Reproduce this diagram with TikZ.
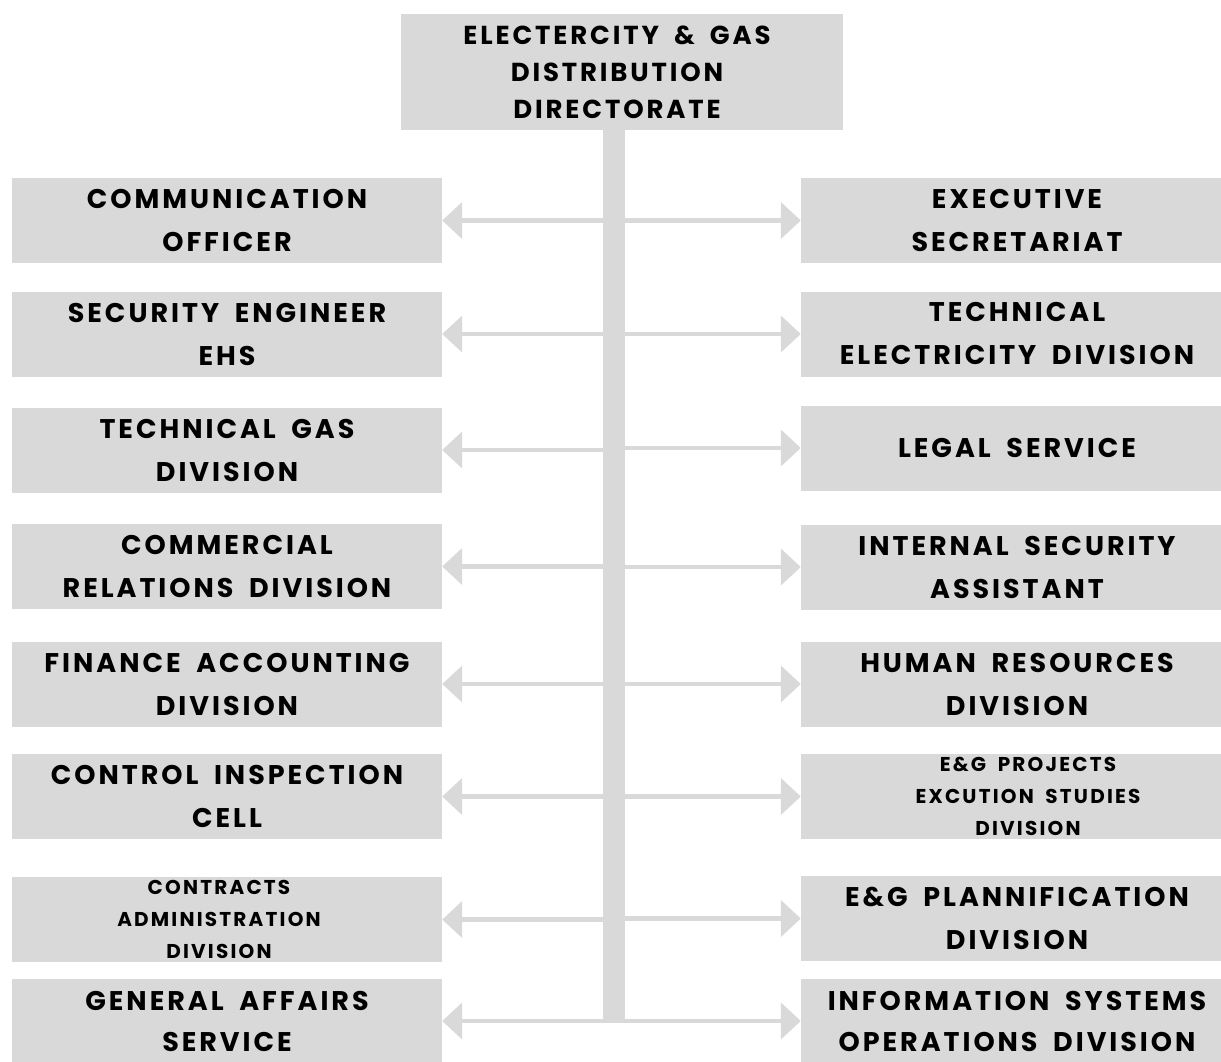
\documentclass[tikz,border=0pt]{standalone}
\usepackage{fontspec}
\setmainfont{Poppins}[LetterSpace=11, WordSpace=1.8]
\usetikzlibrary{arrows.meta}
\definecolor{boxgray}{HTML}{D9D9D9}
\newcommand{\bigtxt}{\fontsize{27}{43}\selectfont\bfseries}
\newcommand{\lasttxt}{\fontsize{27}{41}\selectfont\bfseries}
\newcommand{\toptxt}{\fontsize{26}{37}\selectfont\bfseries}
\newcommand{\smalltxt}{\fontsize{20}{32}\selectfont\bfseries}
% shift a centred line sideways by half the given amount
\newcommand{\nudge}[1]{\hspace*{#1}}
\tikzset{
  unit/.style={fill=boxgray, inner sep=0pt, align=center, minimum height=85pt, font=\bigtxt},
  leftunit/.style={unit, minimum width=430pt},
  rightunit/.style={unit, minimum width=432pt},
  conn/.style={draw=boxgray, line width=4.5pt, -{Triangle[length=20pt,width=36pt]}},
  trunk/.style={draw=boxgray, line width=22pt}
}
\begin{document}
\begin{tikzpicture}[x=1pt,y=-1pt]
\useasboundingbox (0,0) rectangle (1221,1061);
\clip (0,0) rectangle (1221,1061);

% directorate at the top
\node[unit, minimum width=442pt, minimum height=116pt, font=\toptxt] (T) at (622,72)
  {\nudge{-10pt}ELECTERCITY \& GAS\\\nudge{-10pt}DISTRIBUTION\\\nudge{-10pt}DIRECTORATE};

% left column
\node[leftunit] (L1) at (227,220.5) {COMMUNICATION\\OFFICER};
\node[leftunit] (L2) at (227,334) {SECURITY ENGINEER\\EHS};
\node[leftunit] (L3) at (227,450) {TECHNICAL GAS\\DIVISION};
\node[leftunit] (L4) at (227,566.5) {COMMERCIAL\\RELATIONS DIVISION};
\node[leftunit] (L5) at (227,684) {FINANCE ACCOUNTING\\DIVISION};
\node[leftunit] (L6) at (227,796.5) {CONTROL INSPECTION\\CELL};
\node[leftunit, font=\smalltxt] (L7) at (227,919.5)
  {\nudge{-16pt}CONTRACTS\\\nudge{-16pt}ADMINISTRATION\\\nudge{-16pt}DIVISION};
\node[leftunit, font=\lasttxt] (L8) at (227,1021) {GENERAL AFFAIRS\\SERVICE};

% right column
\node[rightunit] (R1) at (1017,220.5) {EXECUTIVE\\SECRETARIAT};
\node[rightunit] (R2) at (1017,334) {TECHNICAL\\ELECTRICITY DIVISION};
\node[rightunit] (R3) at (1017,448) {LEGAL SERVICE};
\node[rightunit] (R4) at (1017,567) {INTERNAL SECURITY\\ASSISTANT};
\node[rightunit] (R5) at (1017,684) {HUMAN RESOURCES\\DIVISION};
\node[rightunit, font=\smalltxt] (R6) at (1017,796.5)
  {\nudge{22pt}E\&G PROJECTS\\\nudge{22pt}EXCUTION STUDIES\\\nudge{22pt}DIVISION};
\node[rightunit] (R7) at (1017,918.5) {E\&G PLANNIFICATION\\DIVISION};
\node[rightunit, font=\lasttxt] (R8) at (1017,1021) {INFORMATION SYSTEMS\\OPERATIONS DIVISION};

% central trunk
\coordinate (trunkTop) at (614,130);
\coordinate (trunkBot) at (614,1023);

\foreach \i in {1,...,8} {
  \draw[conn] (trunkTop |- L\i.east) -- (L\i.east);
  \draw[conn] (trunkTop |- R\i.west) -- (R\i.west);
}
\draw[trunk] (trunkTop) -- (trunkBot);
\end{tikzpicture}
\end{document}
